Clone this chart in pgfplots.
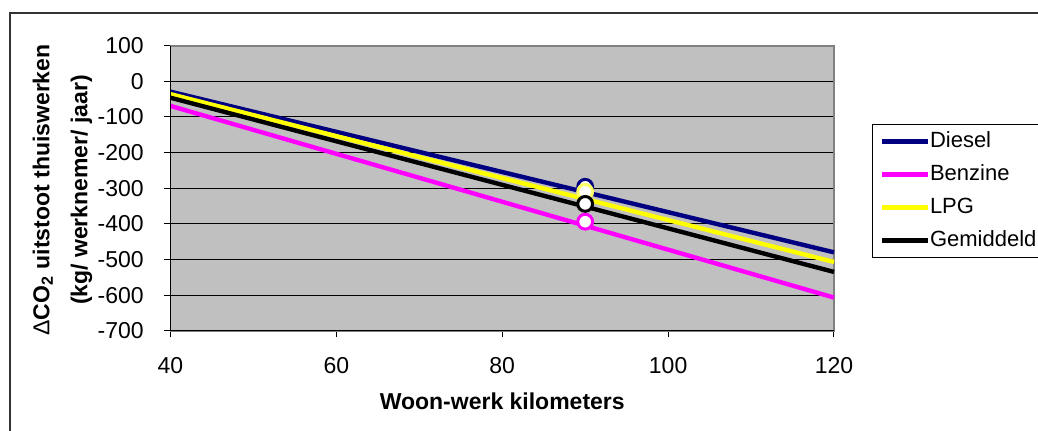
\documentclass[border=0pt]{standalone}
\usepackage{fontspec}
\setmainfont{Liberation Sans}
\usepackage{pgfplots}
\pgfplotsset{compat=1.18}
\definecolor{plotgray}{HTML}{C0C0C0}
\definecolor{navy}{HTML}{000080}
\definecolor{magenta2}{HTML}{FF00FF}
\definecolor{yel}{HTML}{FFFF00}
\definecolor{boxgray}{HTML}{808080}
\newcommand{\tf}{\fontsize{11.5}{13}\selectfont}
\begin{document}
\tf
\begin{tikzpicture}
\path[use as bounding box] (0,0) rectangle (519pt,215pt);
\draw[black!80, line width=1pt] (5pt,-2pt) -- (5pt,208.5pt) -- (522pt,208.5pt);
\begin{axis}[
  at={(85.25pt,49.65pt)}, anchor=south west,
  width=331.75pt, height=142.5pt, scale only axis,
  xmin=40, xmax=120, ymin=-700, ymax=100,
  xtick={40,60,80,100,120}, xticklabels={40,60,80,100,120},
  ytick={-700,-600,-500,-400,-300,-200,-100,0,100},
  yticklabels={-700,-600,-500,-400,-300,-200,-100,0,100},
  tick align=outside, major tick length=3.3pt,
  xtick pos=bottom, ytick pos=left,
  tick style={black, line width=0.5pt},
  every tick label/.append style={font=\tf},
  xticklabel style={font=\tf, anchor=center, inner sep=0pt, yshift=-14pt},
  yticklabel style={font=\tf, anchor=east, inner sep=0pt, xshift=-9.9pt},
  ymajorgrids, grid style={black, line width=0.5pt},
  axis line style={draw=boxgray, line width=0.9pt},
  axis background/.style={fill=plotgray},
  clip=false,
  xlabel={Woon-werk kilometers},
  xlabel style={at={(axis description cs:0.5,-0.249)}, anchor=center, font=\tf\bfseries},
  ylabel={{\mdseries Δ}CO\textsubscript{2} uitstoot  thuiswerken\\[6pt](kg/ werknemer/ jaar)},
  ylabel style={at={(axis description cs:-0.163,0.494)}, anchor=center, align=center, font=\fontsize{11.5}{13}\selectfont\bfseries},
  legend style={at={(1.0573,0.725)}, anchor=north west, draw=black, line width=0.6pt, fill=white,
    inner xsep=3.5pt, inner ysep=3pt, row sep=5.7pt, font=\fontsize{11}{13}\selectfont,
    nodes={inner sep=0pt, text height=8.3pt, text depth=2.5pt, anchor=west},
    /tikz/every even column/.append style={column sep=2pt}},
  legend image code/.code={\draw[#1] (0pt,0pt) -- (23pt,0pt);},
  legend cell align=left,
]
\addplot[navy, line width=2.2pt] coordinates {(40,-29) (120,-480)};
\addlegendentry{Diesel}
\addplot[magenta2, line width=2.2pt] coordinates {(40,-69) (120,-607)};
\addlegendentry{Benzine}
\addplot[yel, line width=2.2pt] coordinates {(40,-36) (120,-507)};
\addlegendentry{LPG}
\addplot[black, line width=2.2pt] coordinates {(40,-46) (120,-535)};
\addlegendentry{Gemiddeld}
\draw[black, line width=0.6pt] (rel axis cs:0,1) -- (rel axis cs:0,0) -- (rel axis cs:1,0);
\addplot[forget plot, only marks, mark=*, mark size=3.7pt, mark options={fill=white, draw=navy, line width=1.5pt}] coordinates {(90,-296)};
\addplot[forget plot, only marks, mark=*, mark size=3.7pt, mark options={fill=white, draw=magenta2, line width=1.5pt}] coordinates {(90,-394)};
\addplot[forget plot, only marks, mark=*, mark size=3.7pt, mark options={fill=white, draw=yel!60!white, line width=1.5pt}] coordinates {(90,-310)};
\addplot[forget plot, only marks, mark=*, mark size=3.7pt, mark options={fill=white, draw=black, line width=1.5pt}] coordinates {(90,-344)};
\end{axis}
\end{tikzpicture}
\end{document}
